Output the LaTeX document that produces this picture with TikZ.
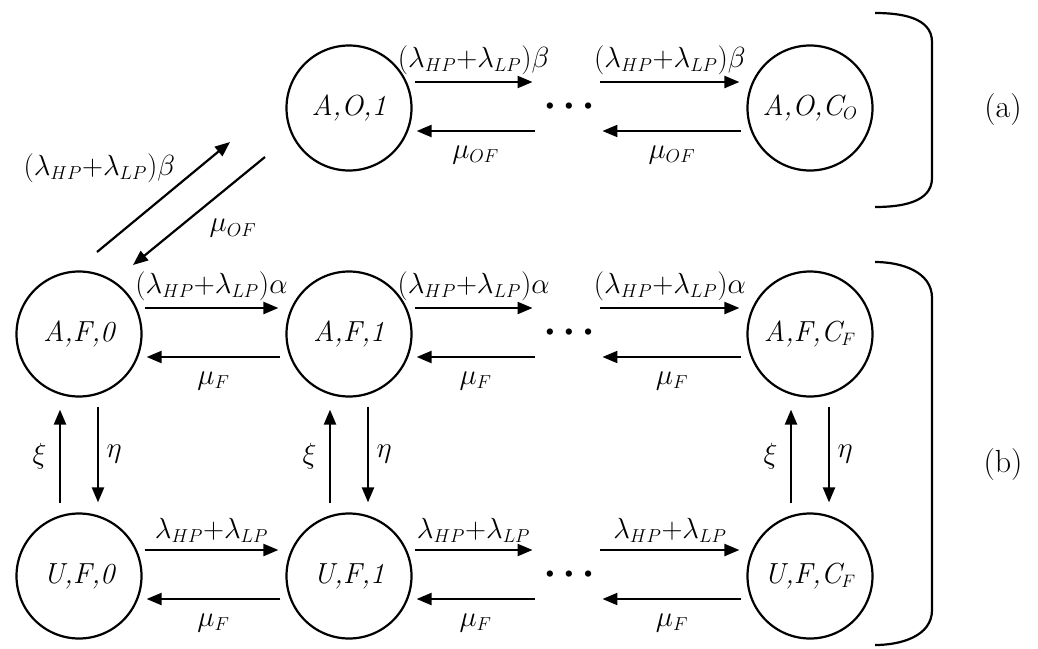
\RequirePackage{fix-cm}
\documentclass[tikz,border=0pt]{standalone}
\usepackage{fontspec}
\usepackage{tikz}
\usetikzlibrary{arrows.meta, positioning}

\DeclareMathSizes{24.88}{24.88}{16}{12}
\DeclareMathSizes{29}{29}{18}{13}

\newcommand{\rateO}{(\lambda_{HP}{+}\lambda_{LP})\beta}
\newcommand{\rateF}{(\lambda_{HP}{+}\lambda_{LP})\alpha}
\newcommand{\rateU}{\lambda_{HP}{+}\lambda_{LP}}
\newcommand{\moredots}{\textbullet\kern-1pt\textbullet\kern-1pt\textbullet}

\tikzset{
  state/.style={circle, draw, line width=2.2pt, minimum size=125pt, inner sep=0pt, font=\fontsize{29}{32}\selectfont\itshape},
  link/.style={-{Triangle[length=15pt,width=12pt]}, line width=2.2pt},
  rate/.style={font=\Huge, scale=1.17, transform shape, inner sep=2pt},
  gap/.style={inner sep=0pt, minimum width=34pt, font=\fontsize{28}{30}\selectfont},
  tag/.style={font=\fontsize{32}{36}\selectfont},
}

\begin{document}
\begin{tikzpicture}[x=1pt, y=-1pt]
\useasboundingbox (0,0) rectangle (1038,648);

% Operating states
\node[state] at (349,108) (ao1) {A,O,1};
\node[gap] at (569,108) (dO) {\moredots};
\node[state] at (810,108) (aoc) {A,O,C$_{O}$};

% Available states
\node[state] at (79,334) (af0) {A,F,0};
\node[state] at (349,334) (af1) {A,F,1};
\node[gap] at (569,334) (dF) {\moredots};
\node[state] at (810,334) (afc) {A,F,C$_{F}$};

% Unavailable states
\node[state] at (79,576) (uf0) {U,F,0};
\node[state] at (349,576) (uf1) {U,F,1};
\node[gap] at (569,576) (dU) {\moredots};
\node[state] at (810,576) (ufc) {U,F,C$_{F}$};

% Row transitions
\foreach \a/\b in {ao1/dO, dO/aoc} {
  \draw[link] ([shift={(2,-26)}]\a.east) -- node[rate, above=4pt] {$\rateO$} ([shift={(-7,-26)}]\b.west);
  \draw[link] ([shift={(-5,23)}]\b.west) -- node[rate, below=11pt] {$\mu_{OF}$} ([shift={(4,23)}]\a.east);
}
\foreach \a/\b in {af0/af1, af1/dF, dF/afc} {
  \draw[link] ([shift={(2,-26)}]\a.east) -- node[rate, above=4pt] {$\rateF$} ([shift={(-7,-26)}]\b.west);
  \draw[link] ([shift={(-5,23)}]\b.west) -- node[rate, below=11pt] {$\mu_{F}$} ([shift={(4,23)}]\a.east);
}
\foreach \a/\b in {uf0/uf1, uf1/dU, dU/ufc} {
  \draw[link] ([shift={(2,-26)}]\a.east) -- node[rate, above=4pt] {$\rateU$} ([shift={(-7,-26)}]\b.west);
  \draw[link] ([shift={(-5,23)}]\b.west) -- node[rate, below=11pt] {$\mu_{F}$} ([shift={(4,23)}]\a.east);
}

% Up and down
\foreach \t/\b in {af0/uf0, af1/uf1, afc/ufc} {
  \draw[link] ([shift={(-19,-9)}]\b.north) -- node[rate, left=10pt] {$\xi$} ([shift={(-19,12)}]\t.south);
  \draw[link] ([shift={(19,9)}]\t.south) -- node[rate, right=5pt] {$\eta$} ([shift={(19,-10)}]\b.north);
}

% Between F and O
\draw[link] ([shift={(18,-82)}]af0.center) -- node[rate, anchor=south east, xshift=13pt, yshift=9pt] {$\rateO$} ([shift={(-119,34)}]ao1.center);
\draw[link] ([shift={(-84,49)}]ao1.center) -- node[rate, anchor=north west, xshift=6pt, yshift=-4pt] {$\mu_{OF}$} ([shift={(54,-69)}]af0.center);

% Brackets
\draw[line width=2.2pt] (875,13) to[out=0,in=90] (932,42) -- (932,178) to[out=-90,in=0] (875,207);
\node[tag] at (1003,110) (tagA) {(a)};
\draw[line width=2.2pt] (875,262) to[out=0,in=90] (932,298) -- (932,610) to[out=-90,in=0] (875,645);
\node[tag] at (1003,465) (tagB) {(b)};

\end{tikzpicture}
\end{document}
